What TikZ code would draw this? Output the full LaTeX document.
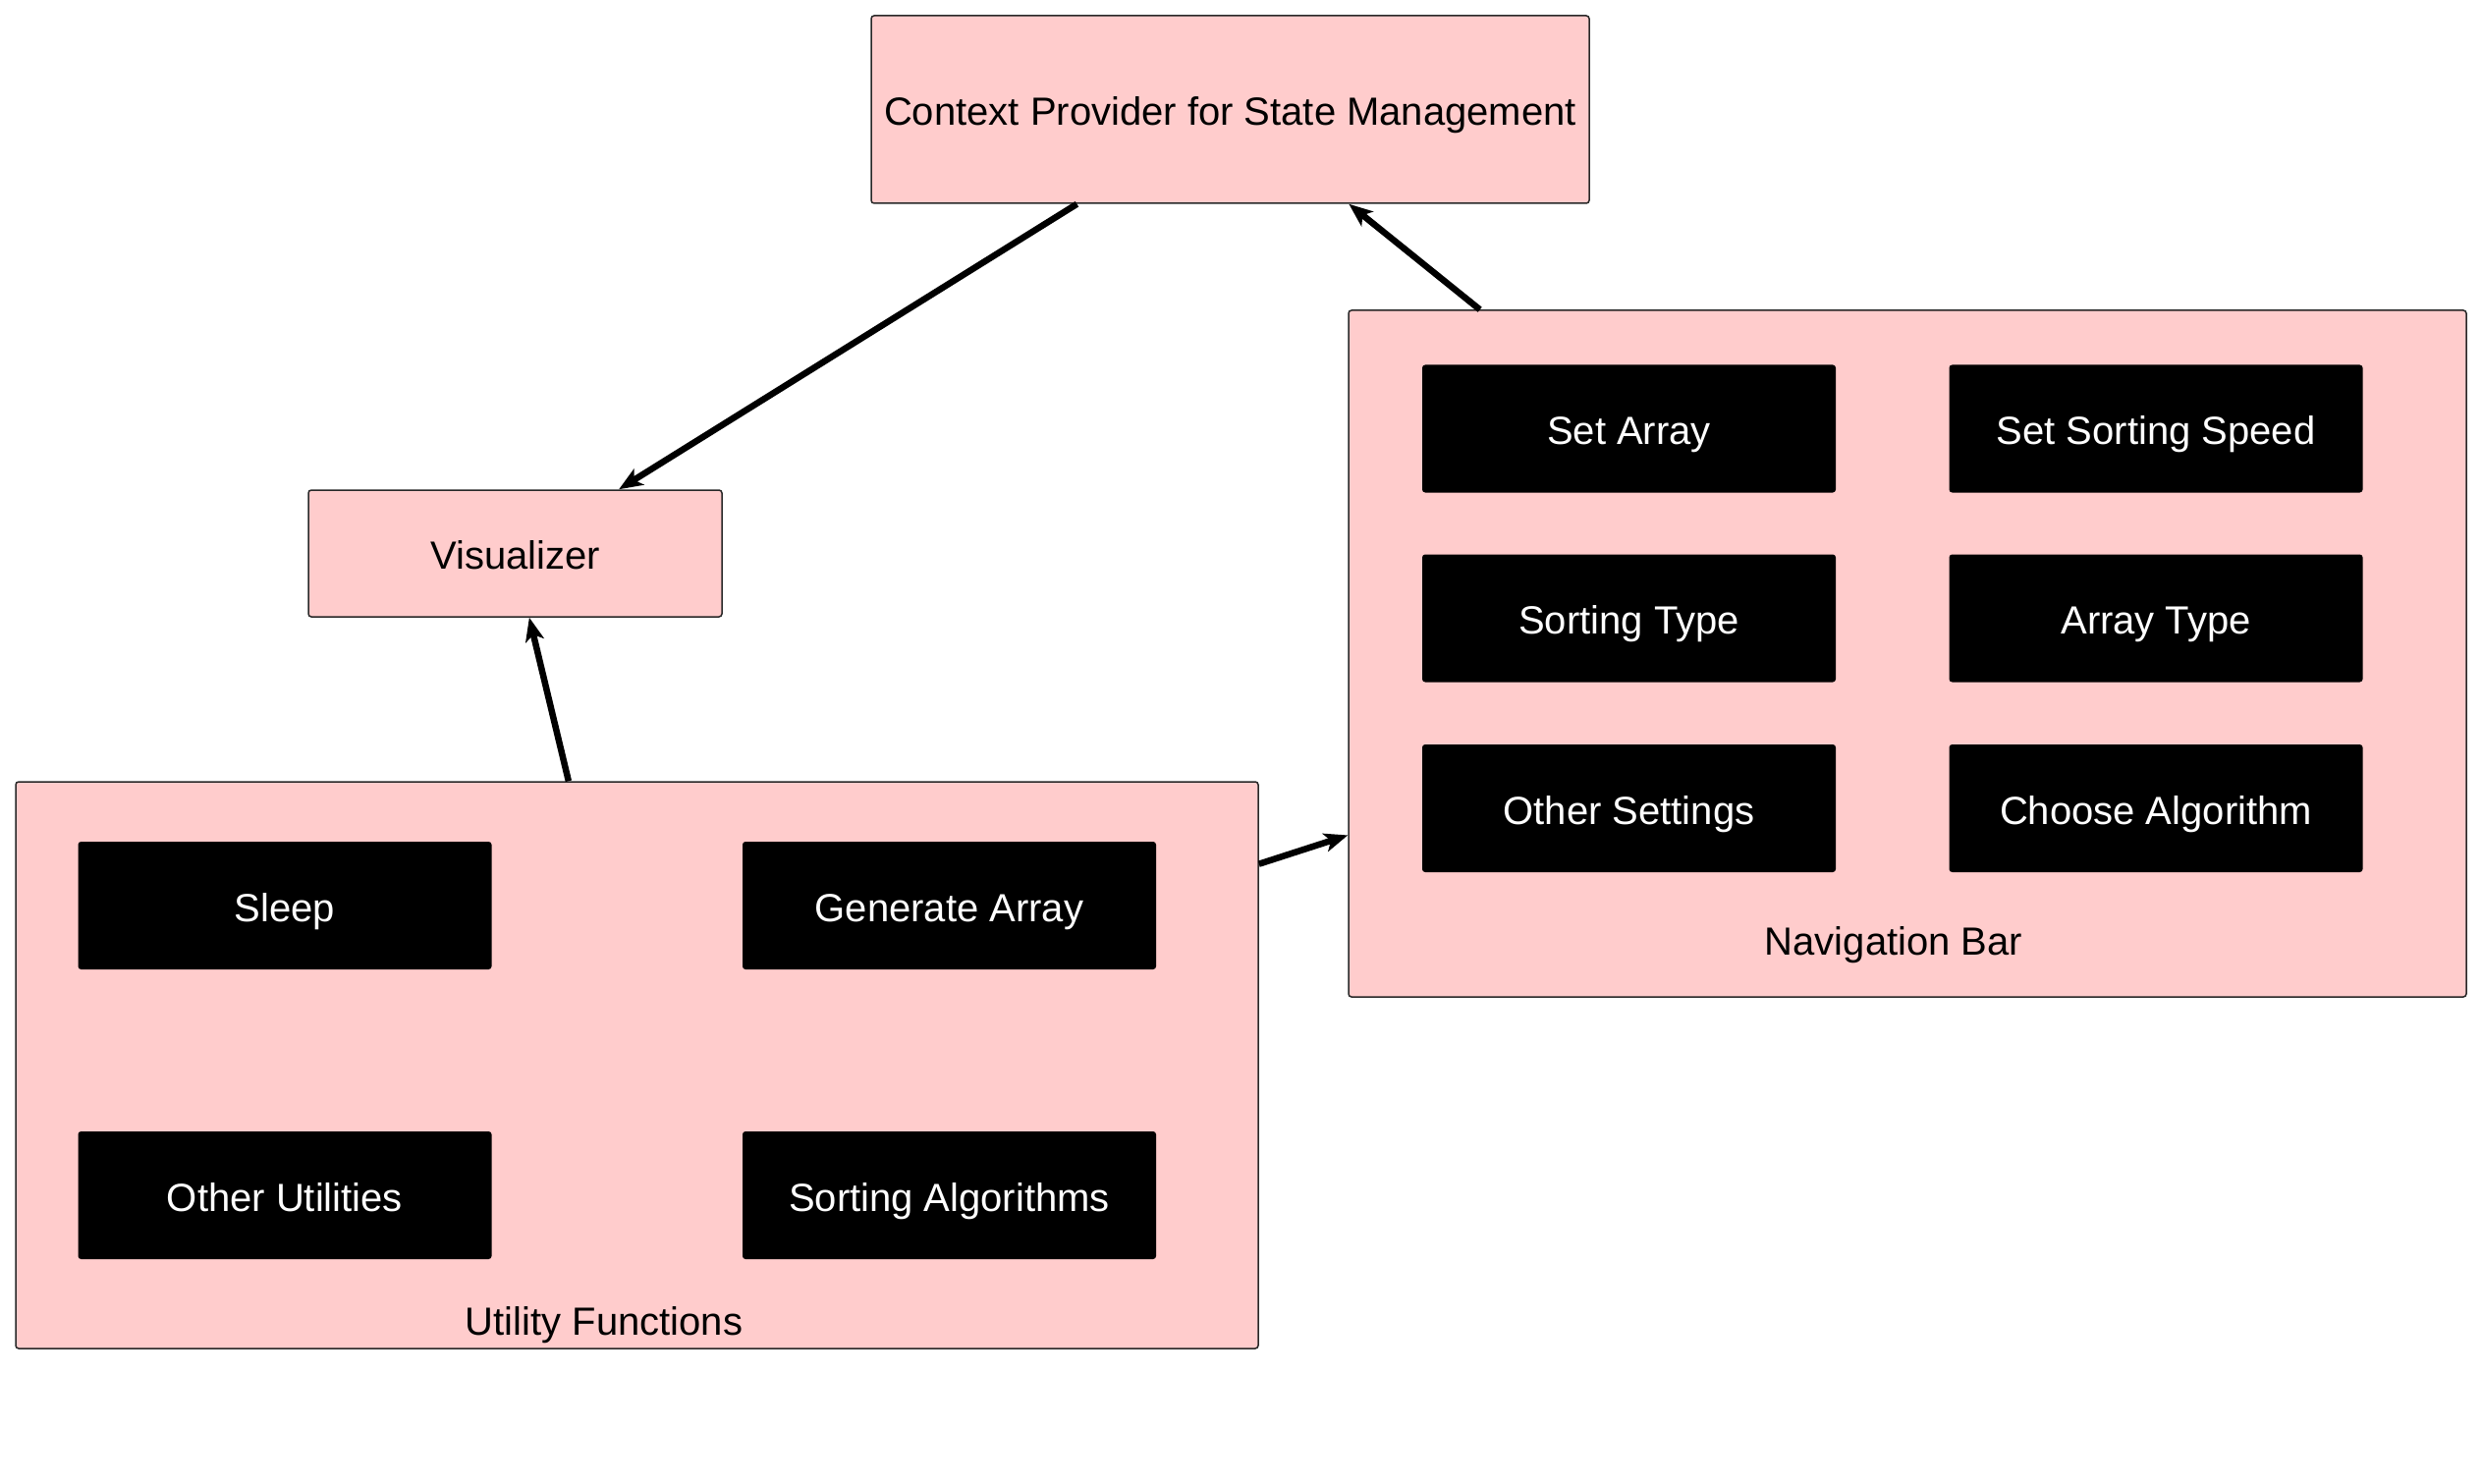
\documentclass[tikz,border=0pt]{standalone}
\usepackage{fontspec}
\setmainfont{Liberation Sans}
\usetikzlibrary{arrows.meta,calc}
\definecolor{boxpink}{RGB}{255,204,204}
\definecolor{boxline}{RGB}{40,40,40}
\tikzset{
  group/.style={draw=boxline, line width=1.5pt, fill=boxpink, rounded corners=3pt, inner sep=0pt},
  item/.style={fill=black, text=white, rounded corners=3pt, minimum width=421pt, minimum height=130pt},
  link/.style={-{Stealth[length=24pt,width=19pt,inset=6pt]}, line width=6.5pt}
}

\begin{document}
\begin{tikzpicture}[x=1pt, y=-1pt, font=\fontsize{40}{48}\selectfont, text height=32pt, text depth=0pt]
\useasboundingbox (0,0) rectangle (2527,1511);
% Top level boxes
\node[group, minimum width=731pt, minimum height=191pt] (ctx) at (1252.5,111.5) {Context Provider for State Management};
\node[group, minimum width=421pt, minimum height=129pt] (vis) at (524.5,563.5) {Visualizer};
\node[group, minimum width=1138pt, minimum height=699pt] (nav) at (1942,665.5) {};
\node[group, minimum width=1265pt, minimum height=577pt] (util) at (648.5,1084.5) {};
\node (navlabel) at (1928,956) {Navigation Bar};
\node (utillabel) at (615,1343) {Utility Functions};
% Navigation bar items
\node[item] (setarray) at (1658.5,436.5) {Set Array};
\node[item] (setspeed) at (2195,436.5) {Set Sorting Speed};
\node[item] (sorttype) at (1658.5,629.5) {Sorting Type};
\node[item] (arraytype) at (2195,629.5) {Array Type};
\node[item] (othersettings) at (1658.5,823) {Other Settings};
\node[item] (choosealgo) at (2195,823) {Choose Algorithm};
% Utility items
\node[item] (sleep) at (290,922) {Sleep};
\node[item] (genarray) at (966.5,922) {Generate Array};
\node[item] (otherutils) at (290,1217) {Other Utilities};
\node[item] (sortalgos) at (966.5,1217) {Sorting Algorithms};
% Connections
\draw[link] ($(ctx.south west)!0.287!(ctx.south east)$) -- ($(vis.north west)!0.75!(vis.north east)$);
\draw[link] ($(nav.north west)!0.118!(nav.north east)$) -- ($(ctx.south west)!0.665!(ctx.south east)$);
\draw[link] ($(util.north west)!0.445!(util.north east)$) -- ($(vis.south west)!0.534!(vis.south east)$);
\draw[link] ($(util.north east)!0.146!(util.south east)$) -- ($(nav.north west)!0.764!(nav.south west)$);
\end{tikzpicture}
\end{document}
